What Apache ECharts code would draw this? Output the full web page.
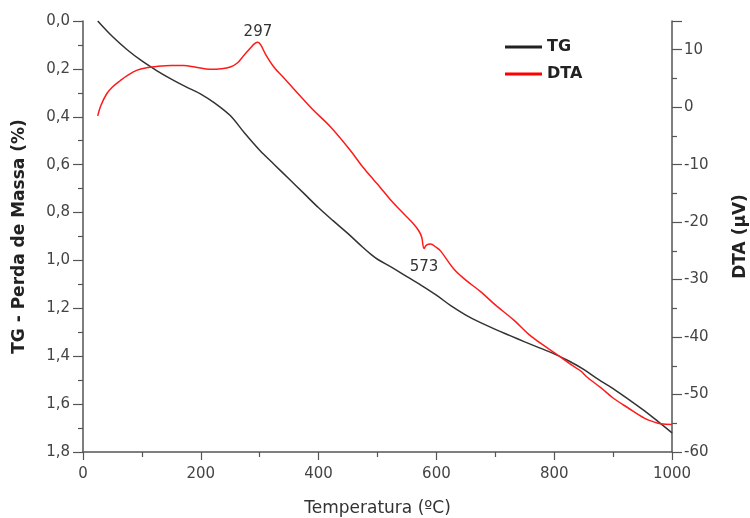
<!DOCTYPE html>
<html>
<head>
<meta charset="utf-8">
<script src="https://cdn.jsdelivr.net/npm/echarts@6/dist/echarts.min.js"></script>
<style>
html,body{margin:0;padding:0;background:#fff;}
#chart{width:750px;height:518px;}
</style>
</head>
<body>
<div id="chart"></div>
<script>
// Temperature (ºC) and TG mass loss (%)
var tgTemp  = [25, 50, 75, 100, 125, 150, 175, 200, 225, 250, 275, 300, 325, 350, 375, 400, 425, 450, 475, 490, 500, 525, 550, 575, 600, 625, 650, 675, 700, 725, 750, 775, 800, 825, 850, 875, 900, 925, 950, 975, 1000];
var tgValue = [0.0, 0.065, 0.12, 0.167, 0.207, 0.243, 0.275, 0.305, 0.345, 0.395, 0.47, 0.54, 0.60, 0.66, 0.72, 0.78, 0.835, 0.888, 0.945, 0.977, 0.995, 1.03, 1.068, 1.105, 1.145, 1.19, 1.228, 1.26, 1.288, 1.314, 1.34, 1.365, 1.39, 1.42, 1.455, 1.497, 1.535, 1.578, 1.622, 1.67, 1.72];

// Temperature (ºC) and DTA signal (µV)
var dtaTemp  = [25, 30, 40, 50, 63, 75, 91, 110, 125, 150, 171, 190, 216, 235, 250, 262, 273, 285, 292, 297, 302, 310, 324, 340, 363, 390, 420, 453, 475, 494, 505, 522, 545, 562, 570, 575, 579, 583, 590, 600, 607, 630, 650, 675, 700, 732, 760, 790, 811, 830, 845, 856, 879, 900, 925, 953, 970, 981, 1000];
var dtaValue = [-1.5, 0.2, 2.3, 3.5, 4.6, 5.5, 6.4, 6.9, 7.1, 7.25, 7.25, 7.0, 6.6, 6.7, 7.0, 7.7, 9.0, 10.4, 11.1, 11.3, 10.8, 9.2, 7.0, 5.2, 2.6, -0.4, -3.4, -7.4, -10.4, -12.7, -14.0, -16.1, -18.6, -20.4, -21.5, -22.6, -24.6, -24.0, -23.8, -24.4, -25.0, -28.2, -30.1, -32.1, -34.4, -37.1, -39.8, -42.0, -43.5, -44.9, -45.9, -47.0, -48.8, -50.6, -52.3, -54.1, -54.8, -55.1, -55.2];

var peakLabels = [{t: 297, v: 11.3, text: '297'}, {t: 579, v: -24.6, text: '573'}];

var tgData = tgTemp.map(function (t, i) { return [t, tgValue[i]]; });
var dtaData = dtaTemp.map(function (t, i) { return [t, dtaValue[i]]; });

var axisColor = '#555';
var labelColor = '#444';
var fontFam = '"DejaVu Sans", Verdana, sans-serif';

var chart = echarts.init(document.getElementById('chart'), null, {renderer: 'canvas'});
chart.setOption({
  animation: false,
  backgroundColor: '#fff',
  textStyle: {fontFamily: fontFam},
  grid: {left: 83, right: 78, top: 21, bottom: 66, containLabel: false, outerBoundsMode: 'none'},
  legend: {
    orient: 'vertical',
    left: 500,
    top: 34,
    itemWidth: 37,
    itemHeight: 3,
    itemGap: 11,
    icon: 'rect',
    textStyle: {fontSize: 16, fontWeight: 'bold', color: '#222', fontFamily: fontFam},
    data: ['TG', 'DTA']
  },
  xAxis: {
    type: 'value',
    min: 0, max: 1000, interval: 200,
    name: 'Temperatura (ºC)',
    nameLocation: 'middle',
    nameGap: 48,
    nameTextStyle: {fontSize: 17, color: '#333', fontFamily: fontFam},
    axisLine: {show: true, onZero: false, lineStyle: {color: axisColor, width: 1.5}},
    axisTick: {show: true, length: 8, lineStyle: {color: axisColor, width: 1.2}},
    minorTick: {show: true, splitNumber: 2, length: 5, lineStyle: {color: axisColor, width: 1.2}},
    axisLabel: {fontSize: 15, color: labelColor, margin: 15, fontFamily: fontFam,
      formatter: function (v) { return String(v); }},
    splitLine: {show: false}
  },
  yAxis: [{
    type: 'value',
    position: 'left',
    inverse: true,
    min: 0, max: 1.8, interval: 0.2,
    name: 'TG - Perda de Massa (%)',
    nameLocation: 'middle',
    nameRotate: 90,
    nameGap: 55,
    nameTextStyle: {fontSize: 17, fontWeight: 'bold', color: '#222', fontFamily: fontFam},
    axisLine: {show: true, onZero: false, lineStyle: {color: axisColor, width: 1.5}},
    axisTick: {show: true, length: 10, lineStyle: {color: axisColor, width: 1.2}},
    minorTick: {show: true, splitNumber: 2, length: 5, lineStyle: {color: axisColor, width: 1.2}},
    axisLabel: {fontSize: 15, color: labelColor, margin: 13, fontFamily: fontFam,
      formatter: function (v) { return v.toFixed(1).replace('.', ','); }},
    splitLine: {show: false}
  }, {
    type: 'value',
    position: 'right',
    min: -60, max: 15, interval: 10,
    name: 'DTA (μV)',
    nameLocation: 'middle',
    nameRotate: 90,
    nameGap: 60,
    nameTextStyle: {fontSize: 17, fontWeight: 'bold', color: '#222', fontFamily: fontFam},
    axisLine: {show: true, onZero: false, lineStyle: {color: axisColor, width: 1.5}},
    axisTick: {show: true, length: 10, lineStyle: {color: axisColor, width: 1.2}},
    minorTick: {show: true, splitNumber: 2, length: 5, lineStyle: {color: axisColor, width: 1.2}},
    axisLabel: {fontSize: 15, color: labelColor, margin: 12, fontFamily: fontFam, showMaxLabel: false,
      formatter: function (v) { return v === 15 ? '' : String(v); }},
    splitLine: {show: false}
  }],
  series: [{
    name: 'TG',
    type: 'line',
    yAxisIndex: 0,
    data: tgData,
    showSymbol: false,
    smooth: 0.35,
    lineStyle: {color: '#333', width: 1.5},
    itemStyle: {color: '#222'}
  }, {
    name: 'DTA',
    type: 'line',
    yAxisIndex: 1,
    data: dtaData,
    showSymbol: false,
    smooth: 0.35,
    lineStyle: {color: '#ff1a1a', width: 1.5},
    itemStyle: {color: '#ff0000'},
    markPoint: {
      symbol: 'circle',
      symbolSize: 0,
      silent: true,
      data: [{
        coord: [peakLabels[0].t, peakLabels[0].v],
        label: {show: true, formatter: peakLabels[0].text, position: 'top', distance: 3,
          fontSize: 15, color: '#333', fontFamily: fontFam}
      }, {
        coord: [peakLabels[1].t, peakLabels[1].v],
        label: {show: true, formatter: peakLabels[1].text, position: 'bottom', distance: 11,
          fontSize: 15, color: '#333', fontFamily: fontFam}
      }]
    }
  }]
});
</script>
</body>
</html>
